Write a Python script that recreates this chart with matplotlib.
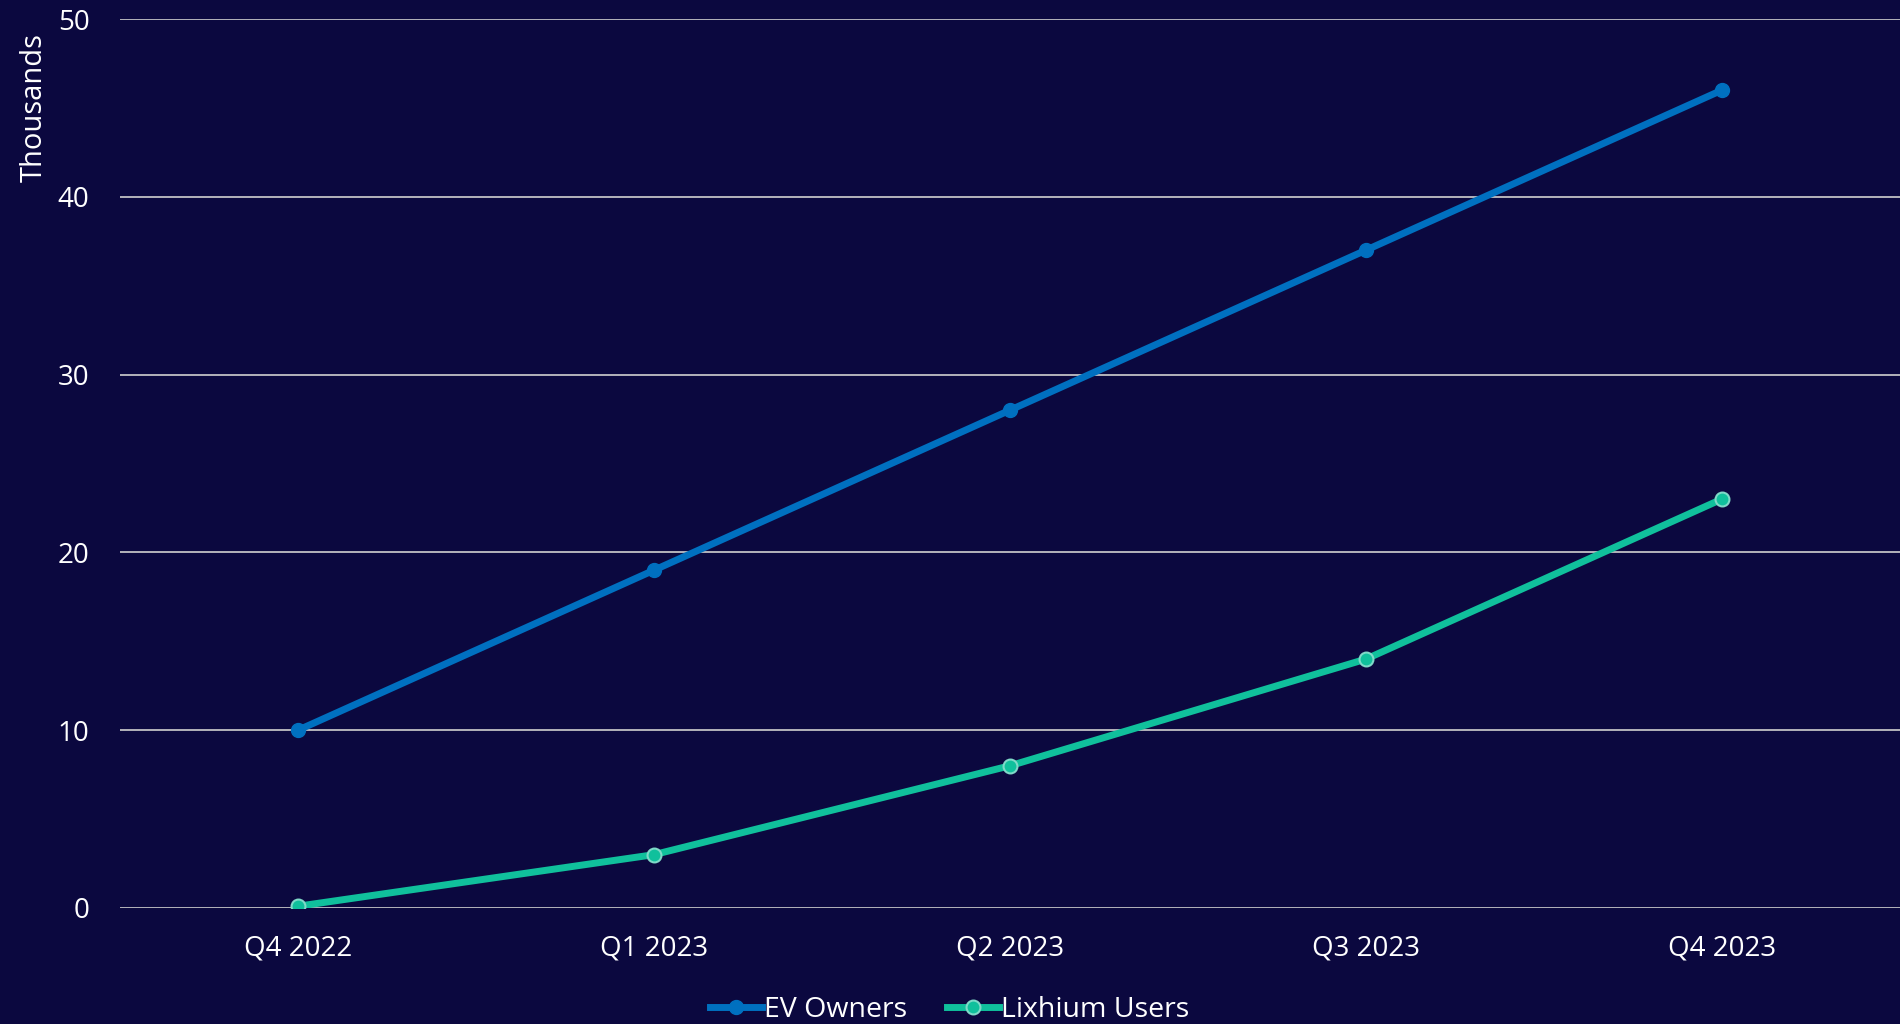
import matplotlib
matplotlib.use('Agg')
import matplotlib.pyplot as plt

quarters = ["Q4 2022", "Q1 2023", "Q2 2023", "Q3 2023", "Q4 2023"]
ev_owners = [10, 19, 28, 37, 46]
lixhium_users = [0.1, 3, 8, 14, 23]

BG = "#0b083f"
plt.rcParams['font.family'] = ['Open Sans', 'DejaVu Sans']

fig = plt.figure(figsize=(19, 10.24), dpi=100, facecolor=BG)
ax = fig.add_axes([120 / 1900, 1 - 908 / 1024, 1780 / 1900, (908 - 19) / 1024])
ax.set_facecolor(BG)

x = range(len(quarters))
ax.plot(x, ev_owners, color="#0070c0", lw=5, marker="o", ms=10,
        markeredgecolor="#0070c0", label="EV Owners", zorder=3)
ax.plot(x, lixhium_users, color="#10c09c", lw=5, marker="o", ms=10,
        markeredgecolor="#7fd9c8", markeredgewidth=1.5, label="Lixhium Users", zorder=3)

ax.set_xlim(-0.5, len(quarters) - 0.5)
ax.set_ylim(0, 50)
ax.set_yticks([0, 10, 20, 30, 40, 50])
ax.set_xticks(list(x))
ax.set_xticklabels(quarters)
ax.grid(axis="y", color="#d0d0d0", lw=1.2)
ax.set_axisbelow(True)
for s in ax.spines.values():
    s.set_visible(False)
ax.tick_params(length=0, colors="white", labelsize=20)
ax.tick_params(axis="y", pad=22)
ax.tick_params(axis="x", pad=19)

ax.set_ylabel("Thousands", color="white", fontsize=21)
ax.yaxis.set_label_coords(-0.04, 0.9)

leg = fig.legend(loc="lower center", bbox_to_anchor=(0.5, -0.025), ncol=2,
                 frameon=False, fontsize=20.5, labelcolor="white",
                 handlelength=1.8, columnspacing=1.4, handletextpad=0.1)

fig.savefig("out.png", dpi=100, facecolor=BG)
